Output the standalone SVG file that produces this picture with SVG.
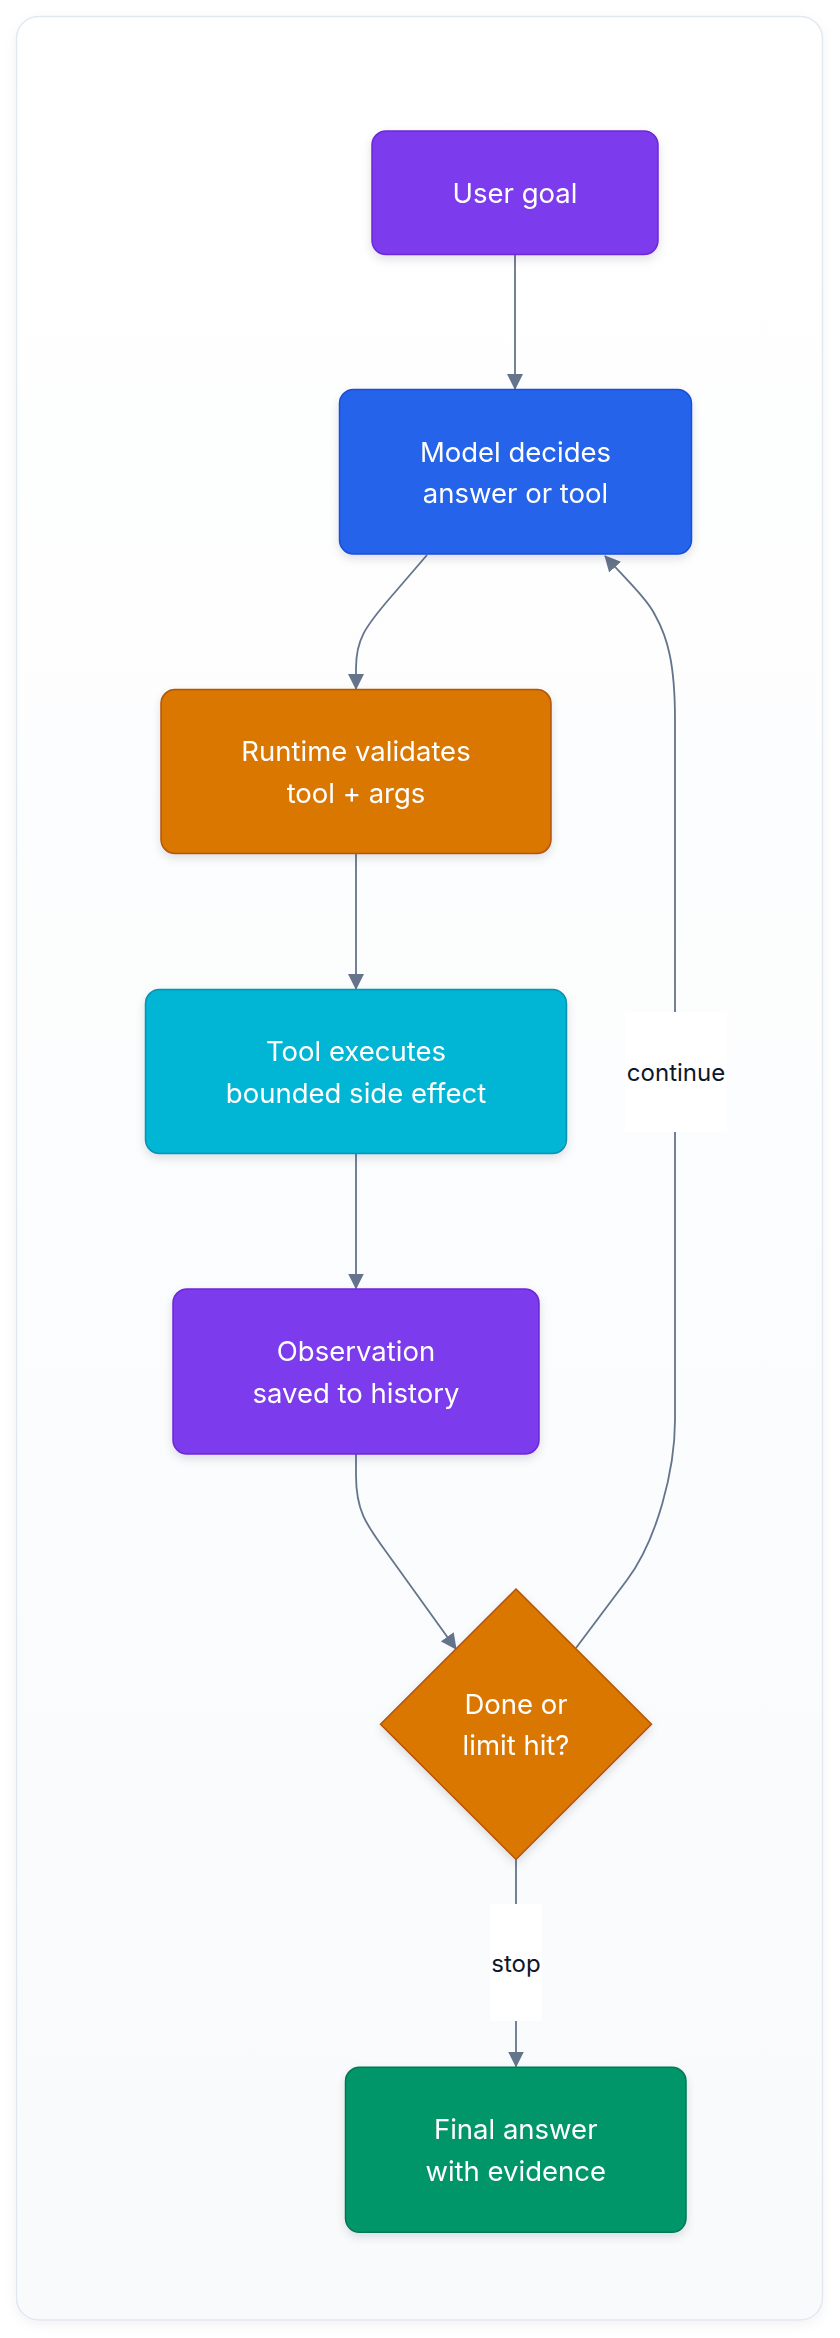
<svg xmlns="http://www.w3.org/2000/svg" width="840" height="2338" viewBox="0 0 840 2338">
  <defs>
    <linearGradient id="cardBg" x1="0" y1="0" x2="0" y2="1">
      <stop offset="0" stop-color="#ffffff"/>
      <stop offset="1" stop-color="#f8fafc"/>
    </linearGradient>
    <filter id="cardShadow" x="-5%" y="-5%" width="110%" height="110%">
      <feDropShadow dx="0" dy="4" stdDeviation="6" flood-color="#0f172a" flood-opacity="0.05"/>
    </filter>
    <filter id="nodeShadow" x="-20%" y="-20%" width="140%" height="150%">
      <feDropShadow dx="0" dy="4" stdDeviation="5" flood-color="#0f172a" flood-opacity="0.12"/>
    </filter>
    <marker id="arrow" viewBox="0 0 16 16" refX="15" refY="8" markerWidth="16" markerHeight="16" markerUnits="userSpaceOnUse" orient="auto">
      <path d="M0,0 L16,8 L0,16 Z" fill="#64748b"/>
    </marker>
    <style>
      .node-text { font-family: Inter, "Liberation Sans", sans-serif; font-size: 27.5px; fill: #ffffff; text-anchor: middle; }
      .label-text { font-family: Inter, "Liberation Sans", sans-serif; font-size: 24px; fill: #0f172a; text-anchor: middle; }
      .edge { fill: none; stroke: #64748b; stroke-width: 1.8; }
      .label-bg { fill: #ffffff; }
      .purple { fill: #7c3aed; stroke: #6d28d9; stroke-width: 1.5; }
      .blue { fill: #2563eb; stroke: #1d4ed8; stroke-width: 1.5; }
      .orange { fill: #d97706; stroke: #b45309; stroke-width: 1.5; }
      .cyan { fill: #06b6d4; stroke: #0891b2; stroke-width: 1.5; }
      .green { fill: #059669; stroke: #047857; stroke-width: 1.5; }
    </style>
  </defs>

  <rect x="0" y="0" width="840" height="2338" fill="#ffffff"/>
  <rect x="16.5" y="16.5" width="806" height="2303.5" rx="22" fill="url(#cardBg)" stroke="#e2e8f0" stroke-width="1.5" filter="url(#cardShadow)"/>

  <g id="connectors">
    <path class="edge" d="M515,254.5 L515,389" marker-end="url(#arrow)"/>
    <path class="edge" d="M427,555 L390,598 C365,627 356,640 356,668 L356,689" marker-end="url(#arrow)"/>
    <path class="edge" d="M356,853.7 L356,989" marker-end="url(#arrow)"/>
    <path class="edge" d="M356,1153.7 L356,1288.5" marker-end="url(#arrow)"/>
    <path class="edge" d="M356,1454 L356,1475 C356,1510 365,1523 387,1553 L456,1649" marker-end="url(#arrow)"/>
    <path class="edge" d="M576,1648 L627,1580 C657,1540 675,1470 675,1420 L675,720 C675,665 668,638 655,615 C648,600 625,578 605,556" marker-end="url(#arrow)"/>
    <path class="edge" d="M516,1859 L516,2066.5" marker-end="url(#arrow)"/>
    <g id="label-continue">
      <rect class="label-bg" x="625" y="1012" width="102" height="120"/>
      <text class="label-text" x="676" y="1080.5">continue</text>
    </g>
    <g id="label-stop">
      <rect class="label-bg" x="490" y="1904" width="52" height="117"/>
      <text class="label-text" x="516" y="1971.5">stop</text>
    </g>
  </g>

  <g id="node-user-goal" filter="url(#nodeShadow)">
    <rect class="purple" x="372" y="131" width="286" height="123.5" rx="14"/>
    <text class="node-text" x="515" y="203">User goal</text>
  </g>

  <g id="node-model" filter="url(#nodeShadow)">
    <rect class="blue" x="339.5" y="389.5" width="352" height="164.5" rx="14"/>
    <text class="node-text" x="515.5" y="461.5">Model decides</text>
    <text class="node-text" x="515.5" y="503">answer or tool</text>
  </g>

  <g id="node-runtime" filter="url(#nodeShadow)">
    <rect class="orange" x="161" y="689.5" width="390" height="164" rx="14"/>
    <text class="node-text" x="356" y="760.5">Runtime validates</text>
    <text class="node-text" x="356" y="802.5">tool + args</text>
  </g>

  <g id="node-tool" filter="url(#nodeShadow)">
    <rect class="cyan" x="145.5" y="989.5" width="421" height="164" rx="14"/>
    <text class="node-text" x="356" y="1061">Tool executes</text>
    <text class="node-text" x="356" y="1102.5">bounded side effect</text>
  </g>

  <g id="node-observation" filter="url(#nodeShadow)">
    <rect class="purple" x="173" y="1289" width="366" height="165" rx="14"/>
    <text class="node-text" x="356" y="1361">Observation</text>
    <text class="node-text" x="356" y="1402.5">saved to history</text>
  </g>

  <g id="node-decision" filter="url(#nodeShadow)">
    <polygon class="orange" points="516,1589 651.5,1724.3 516,1859.5 380.5,1724.3"/>
    <text class="node-text" x="516" y="1714">Done or</text>
    <text class="node-text" x="516" y="1755">limit hit?</text>
  </g>

  <g id="node-final" filter="url(#nodeShadow)">
    <rect class="green" x="345.5" y="2067.3" width="340.5" height="165" rx="14"/>
    <text class="node-text" x="515.7" y="2139">Final answer</text>
    <text class="node-text" x="515.7" y="2180.5">with evidence</text>
  </g>
</svg>
